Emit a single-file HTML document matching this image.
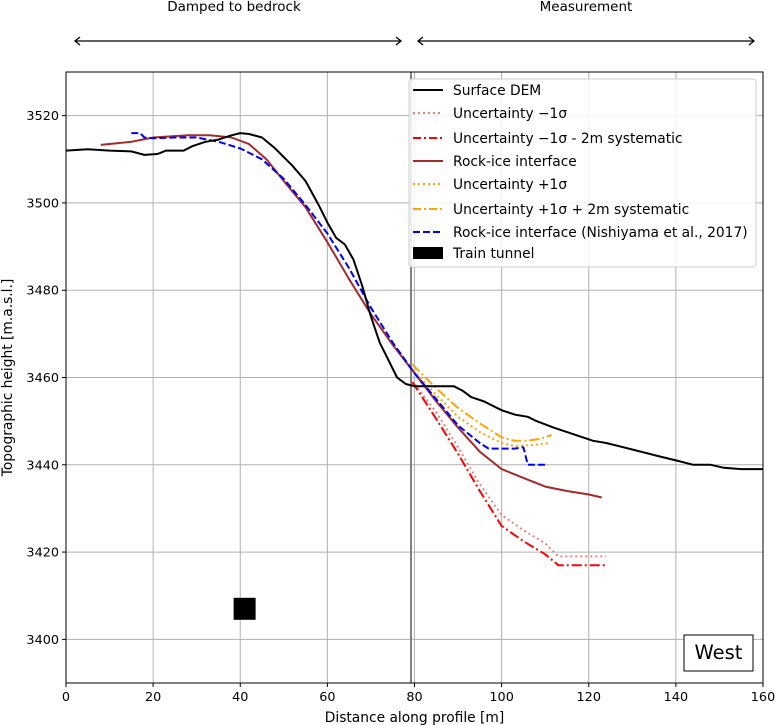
<!DOCTYPE html>
<html><head><meta charset="utf-8"><style>
body{margin:0;background:#fff;}
svg{display:block;font-family:"DejaVu Sans","Liberation Sans",sans-serif;}
</style></head><body>
<svg id="chart" width="775" height="725" viewBox="0 0 775 725" xmlns="http://www.w3.org/2000/svg"></svg>
<script>
const xTicks=[0,20,40,60,80,100,120,140,160];
const yTicks=[3400,3420,3440,3460,3480,3500,3520];
const demX=[0,5,10,15,18,21,23,27,29,32,35,38,40,42,45,48,52,55,58,60,62,64,66,68,70,72,74,76,78,80,85,89,91,93,96,98,100,103,106,108,112,115,118,121,124,128,132,136,140,144,148,151,155,160];
const demY=[3512,3512.3,3512,3511.8,3511,3511.2,3512,3512,3513,3514,3514.5,3515.5,3516,3515.8,3515,3512.5,3508.5,3505,3499.5,3495.5,3492,3490.5,3487,3481,3474,3468,3464,3460,3458.5,3458,3458,3458,3457,3455.5,3454.5,3453.5,3452.5,3451.5,3451,3450,3448.5,3447.5,3446.5,3445.5,3445,3444,3443,3442,3441,3440,3440,3439.3,3439,3439];
const rockX=[8,15,20,28,33,38,42,46,50,55,60,65,70,75,80,85,90,95,100,105,110,115,120,123];
const rockY=[3513.3,3514,3515,3515.5,3515.5,3515,3513.5,3510,3505,3499,3491,3482.5,3474.5,3467.5,3461,3454.5,3448.5,3443,3439,3437,3435,3434,3433.2,3432.5];
const nishX=[15,17,18,20,25,30,35,40,45,50,55,60,65,70,75,80,85,90,95,97,103,105,106,110];
const nishY=[3516,3516,3515,3514.8,3515,3515,3514,3512.5,3510,3505.5,3499.5,3493,3485,3476,3468,3461,3455,3449,3445,3443.7,3443.7,3444,3440,3440];
const upX=[79,85,90,95,100,103,107,111];
const upY=[3462.5,3456,3451,3447.5,3445,3444.3,3444.5,3445];
const upSysX=[79.5,85,90,95,100,103,106,109,111.5];
const upSysY=[3463,3457.5,3453,3449.5,3446.3,3445.5,3445.5,3446,3446.8];
const loX=[80,85,90,95,100,105,110,113,124];
const loY=[3458.5,3452,3444,3435.5,3428.5,3425,3422,3419,3419];
const loSysX=[79.5,85,90,95,100,105,110,113,124];
const loSysY=[3459,3450.5,3442.5,3434,3426,3422.5,3419.5,3417,3417];
const tunnelX=[41];
const tunnelY=[3407];
const boundaryX=[79.2];

const L=66,R=763,T=72,B=683,X0=0,X1=160,Y0=3390,Y1=3530;
const sx=v=>L+(v-X0)/(X1-X0)*(R-L);
const sy=v=>B-(v-Y0)/(Y1-Y0)*(B-T);
const svg=document.getElementById('chart');
const NS='http://www.w3.org/2000/svg';
function mk(tag,attrs,parent){const e=document.createElementNS(NS,tag);for(const k in attrs)e.setAttribute(k,attrs[k]);(parent||svg).appendChild(e);return e;}

xTicks.forEach(t=>{
  const g=mk('line',{x1:sx(t),x2:sx(t),y1:T,y2:B,stroke:'#b0b0b0','stroke-width':1});
  
  
  const tk=mk('line',{x1:sx(t),x2:sx(t),y1:B,y2:B+4,stroke:'#000'});
  
  
  const lb=mk('text',{x:sx(t),y:B+18,'text-anchor':'middle','font-size':12.8});
  lb.textContent=t;
  
  
});
yTicks.forEach(t=>{
  const g=mk('line',{x1:L,x2:R,y1:sy(t),y2:sy(t),stroke:'#b0b0b0','stroke-width':1});
  
  
  const tk=mk('line',{x1:L-4,x2:L,y1:sy(t),y2:sy(t),stroke:'#000'});
  
  
  const lb=mk('text',{x:L-7,y:sy(t)+4.5,'text-anchor':'end','font-size':12.8});
  lb.textContent=t;
  
  
});

boundaryX.forEach(b=>{
  const e=mk('line',{x1:sx(b),x2:sx(b),y1:T,y2:B,stroke:'#808080','stroke-width':2});
  
  
});

function series(xs,ys,color,dash,name,w){
  const d=xs.map((x,i)=>(i?'L':'M')+sx(x).toFixed(1)+' '+sy(ys[i]).toFixed(1)).join(' ');
  const p=mk('path',{d:d,fill:'none',stroke:color,'stroke-width':w||2,'stroke-dasharray':dash||'none','stroke-linejoin':'round'});
  
  
}
series(loX,loY,'#f08080','2 3','uncertainty-minus-1sigma-line');
series(loSysX,loSysY,'#ff0000','10 3 2 3','uncertainty-minus-1sigma-systematic-line');
series(upX,upY,'#ffa500','2 3','uncertainty-plus-1sigma-line');
series(upSysX,upSysY,'#ffa500','10 3 2 3','uncertainty-plus-1sigma-systematic-line');
series(rockX,rockY,'#a52a2a','','rock-ice-interface-line');
series(nishX,nishY,'#0000ff','7 3','nishiyama-interface-line');
series(demX,demY,'#000000','','surface-dem-line');
tunnelX.forEach((x,i)=>{
  const r=mk('rect',{x:sx(x)-11,y:sy(tunnelY[i])-11,width:22,height:22,fill:'#000'});
  
  
});

const fr=mk('rect',{x:L,y:T,width:R-L,height:B-T,fill:'none',stroke:'#000','stroke-width':1});



const xt=mk('text',{x:(L+R)/2,y:722,'text-anchor':'middle','font-size':13.8});
xt.textContent='Distance along profile [m]';


const yt=mk('text',{x:0,y:0,'text-anchor':'middle','font-size':13.8,transform:'translate(12,'+((T+B)/2)+') rotate(-90)'});
yt.textContent='Topographic height [m.a.s.l.]';



const lg=mk('g',{});


mk('rect',{x:409,y:79,width:347,height:188,rx:3,fill:'#fff','fill-opacity':0.85,stroke:'#cccccc'},lg);
const items=[
 ['Surface DEM','#000','',90],
 ['Uncertainty \u22121\u03c3','#f08080','2 3',113],
 ['Uncertainty \u22121\u03c3 - 2m systematic','#ff0000','8 3 2 3',138],
 ['Rock-ice interface','#a52a2a','',161],
 ['Uncertainty +1\u03c3','#ffa500','2 3',184],
 ['Uncertainty +1\u03c3 + 2m systematic','#ffa500','8 3 2 3',209],
 ['Rock-ice interface (Nishiyama et al., 2017)','#0000ff','7 3',232]];
items.forEach(it=>{
  const g=mk('g',{},lg);
  
  
  mk('line',{x1:413,x2:443,y1:it[3],y2:it[3],stroke:it[1],'stroke-width':2,'stroke-dasharray':it[2]||'none'},g);
  const t=mk('text',{x:453,y:it[3]+5,'font-size':13.8},g);
  t.textContent=it[0];
});
const tg=mk('g',{},lg);


mk('rect',{x:413,y:247,width:30,height:12,fill:'#000'},tg);
const tt=mk('text',{x:453,y:258,'font-size':13.8},tg);
tt.textContent='Train tunnel';

const wb=mk('g',{});


mk('rect',{x:684,y:635,width:69,height:36,fill:'#fff',stroke:'#000'},wb);
const wt=mk('text',{x:718.5,y:659,'text-anchor':'middle','font-size':19.5},wb);
wt.textContent='West';

function arrow(x1,x2,name){
  const g=mk('g',{});
  
  
  mk('line',{x1:x1,x2:x2,y1:41,y2:41,stroke:'#000','stroke-width':1.3},g);
  mk('path',{d:`M${x1+5} 37 L${x1} 41 L${x1+5} 45 M${x2-5} 37 L${x2} 41 L${x2-5} 45`,fill:'none',stroke:'#000','stroke-width':1.3},g);
}
arrow(75,401,'bedrock-arrow');
arrow(418,754,'measurement-arrow');
const a1=mk('text',{x:234,y:11,'text-anchor':'middle','font-size':13.5});
a1.textContent='Damped to bedrock';


const a2=mk('text',{x:586,y:11,'text-anchor':'middle','font-size':13.5});
a2.textContent='Measurement';


</script>
</body></html>
